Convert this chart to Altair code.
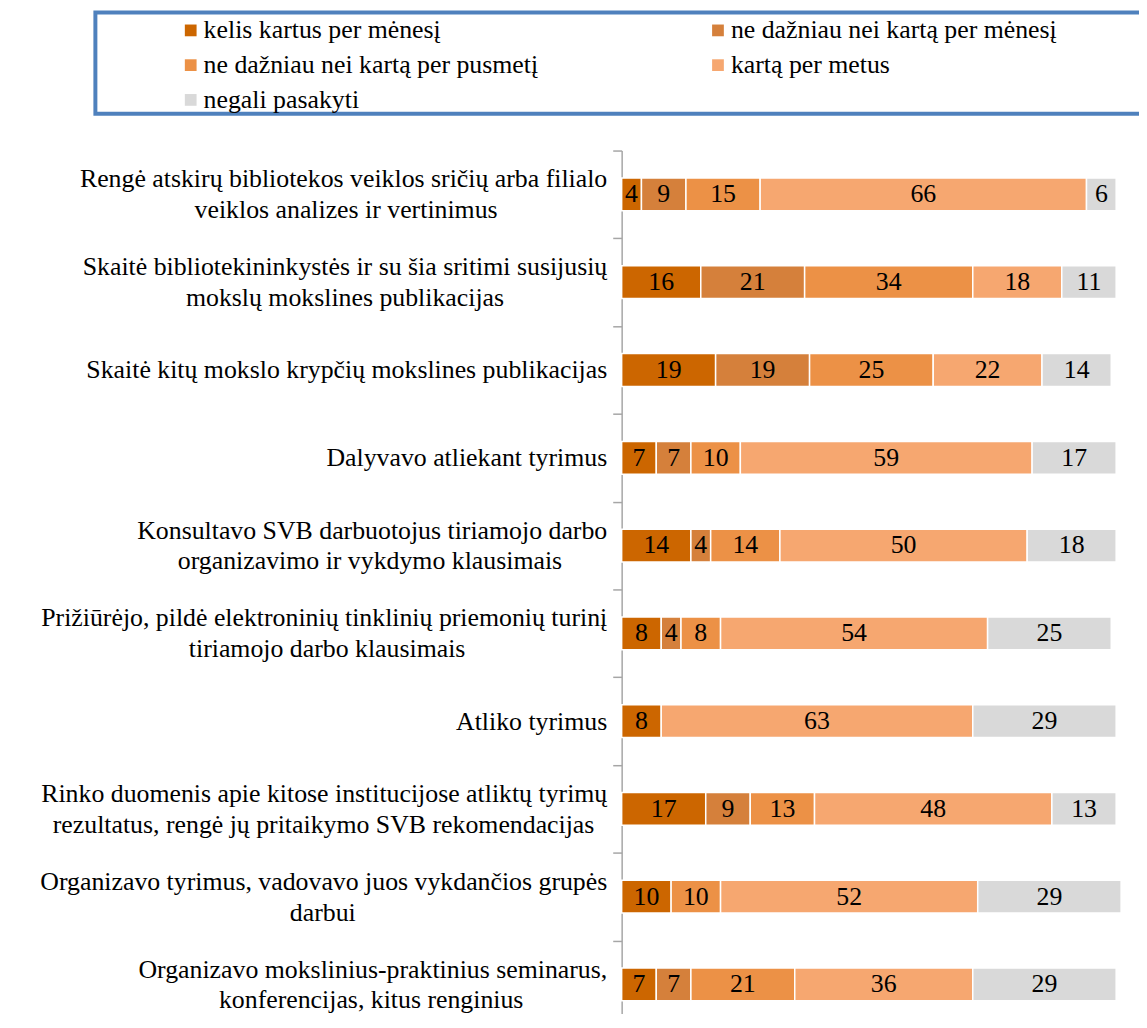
import unicodedata
import altair as alt
import pandas as pd

# ---------------- data ----------------
label_lines = [
    ["Rengė atskirų bibliotekos veiklos sričių arba filialo", "veiklos analizes ir vertinimus"],
    ["Skaitė bibliotekininkystės ir su šia sritimi susijusių", "mokslų mokslines publikacijas"],
    ["Skaitė kitų mokslo krypčių mokslines publikacijas"],
    ["Dalyvavo atliekant tyrimus"],
    ["Konsultavo SVB darbuotojus tiriamojo darbo", "organizavimo ir vykdymo klausimais"],
    ["Prižiūrėjo, pildė elektroninių tinklinių priemonių turinį", "tiriamojo darbo klausimais"],
    ["Atliko tyrimus"],
    ["Rinko duomenis apie kitose institucijose atliktų tyrimų", "rezultatus, rengė jų pritaikymo SVB rekomendacijas"],
    ["Organizavo tyrimus, vadovavo juos vykdančios grupės", "darbui"],
    ["Organizavo mokslinius-praktinius seminarus,", "konferencijas, kitus renginius"],
]

series = [
    "kelis kartus per mėnesį",
    "ne dažniau nei kartą per mėnesį",
    "ne dažniau nei kartą per pusmetį",
    "kartą per metus",
    "negali pasakyti",
]

kelis_kartus = [4, 16, 19, 7, 14, 8, 8, 17, 10, 7]
kartą_per_mėnesį = [9, 21, 19, 7, 4, 4, 0, 9, 0, 7]
kartą_per_pusmetį = [15, 34, 25, 10, 14, 8, 0, 13, 10, 21]
kartą_per_metus = [66, 18, 22, 59, 50, 54, 63, 48, 52, 36]
negali_pasakyti = [6, 11, 14, 17, 18, 25, 29, 13, 29, 29]

colors = ["#CC6600", "#D5803B", "#EC9146", "#F6A770", "#D9D9D9"]

# ---------------- label centering (Times metrics) ----------------
_W = {" ": 250, ",": 250, "-": 333, ".": 250}
_W.update(dict(zip("abcdefghijklmnopqrstuvwxyz",
                   [444, 500, 444, 500, 444, 333, 500, 500, 278, 278, 500, 278, 778,
                    500, 500, 500, 500, 333, 389, 278, 500, 500, 722, 500, 500, 444])))
_W.update(dict(zip("ABCDEFGHIJKLMNOPQRSTUVWXYZ",
                   [722, 667, 667, 722, 611, 556, 722, 722, 333, 389, 722, 611, 889,
                    722, 722, 556, 722, 667, 556, 611, 722, 722, 944, 722, 722, 611])))

ZW = "\u200b"  # zero-width char: an "empty" line that is not trimmed away


def text_width(s):
    total = 0
    for ch in s:
        base = unicodedata.normalize("NFD", ch)[0]
        total += _W.get(base, 500)
    return total


def make_label(lines):
    # three half-height rows: two-line labels use rows 1 and 3, single-line labels row 2
    if len(lines) == 1:
        return ZW + "|" + lines[0] + "|" + ZW
    l1, l2 = lines
    w1, w2 = text_width(l1), text_width(l2)
    k = int(round(abs(w1 - w2) / 2 / 250))
    pad = "\u00a0" * k + ZW
    if w2 < w1:
        l2 = l2 + pad
    else:
        l1 = l1 + pad
    return l1 + "|" + ZW + "|" + l2


cats = [make_label(l) for l in label_lines]
all_values = [kelis_kartus, kartą_per_mėnesį, kartą_per_pusmetį, kartą_per_metus, negali_pasakyti]

rows = []
for ci, c in enumerate(cats):
    for si, s in enumerate(series):
        rows.append({"cat": c, "series": s, "value": all_values[si][ci], "order": si})
df = pd.DataFrame(rows)

# ---------------- chart ----------------
yscale = alt.Scale(domain=cats, range=[0, 884], paddingInner=0, paddingOuter=0)
xscale = alt.Scale(domain=[0, 101], nice=False, zero=True)

base = (
    alt.Chart(df)
    .transform_filter("datum.value > 0")
    .transform_stack(stack="value", groupby=["cat"], as_=["v0", "v1"],
                     sort=[alt.SortField("order", order="ascending")])
    .transform_calculate(mid="(datum.v0 + datum.v1) / 2")
)

yenc = alt.Y(
    "cat:N",
    scale=yscale,
    sort=cats,
    axis=alt.Axis(
        title=None,
        labelExpr="split(datum.label, '|')",
        labelFont="Liberation Serif",
        labelFontSize=26,
        labelLineHeight=15.5,
        labelColor="#000000",
        labelLimit=0,
        labelPadding=6,
        labelOffset=-15.5,
        tickSize=9,
        tickBand="extent",
        tickColor="#A6A6A6",
        tickWidth=1.5,
        domainColor="#A6A6A6",
        domainWidth=1.5,
        grid=False,
    ),
)

bars = base.mark_bar(size=33, stroke="white", strokeWidth=1.5).encode(
    x=alt.X("v0:Q", scale=xscale, axis=None),
    x2="v1:Q",
    y=yenc,
    color=alt.Color(
        "series:N",
        scale=alt.Scale(domain=series, range=colors),
        legend=alt.Legend(
            title=None,
            orient="none",
            direction="horizontal",
            legendX=-447,
            legendY=-134,
            columns=2,
            columnPadding=167,
            rowPadding=9,
            padding=0,
            symbolType="square",
            symbolSize=140,
            symbolStrokeWidth=0,
            labelFont="Liberation Serif",
            labelFontSize=26,
            labelColor="#000000",
            labelLimit=0,
            labelOffset=0,
        ),
    ),
)

labels = base.mark_text(font="Liberation Serif", fontSize=26, color="black", baseline="middle").encode(
    x=alt.X("mid:Q", scale=xscale, axis=None),
    y=alt.Y("cat:N", scale=yscale, sort=cats),
    text="value:Q",
)

box = alt.Chart(pd.DataFrame({"k": [0]})).mark_rect(
    filled=False, stroke="#4F81BD", strokeWidth=4
).encode(
    x=alt.value(-530), x2=alt.value(545), y=alt.value(-139), y2=alt.value(-37)
)

chart = (
    alt.layer(box, bars, labels)
    .properties(
        width=503,
        height=866,
        autosize=alt.AutoSizeParams(type="none"),
        padding={"left": 618, "top": 140, "right": 18, "bottom": 0},
        background="white",
    )
    .configure_view(strokeWidth=0)
)

chart.save("out.html", embed_options={"renderer": "svg", "actions": False})
